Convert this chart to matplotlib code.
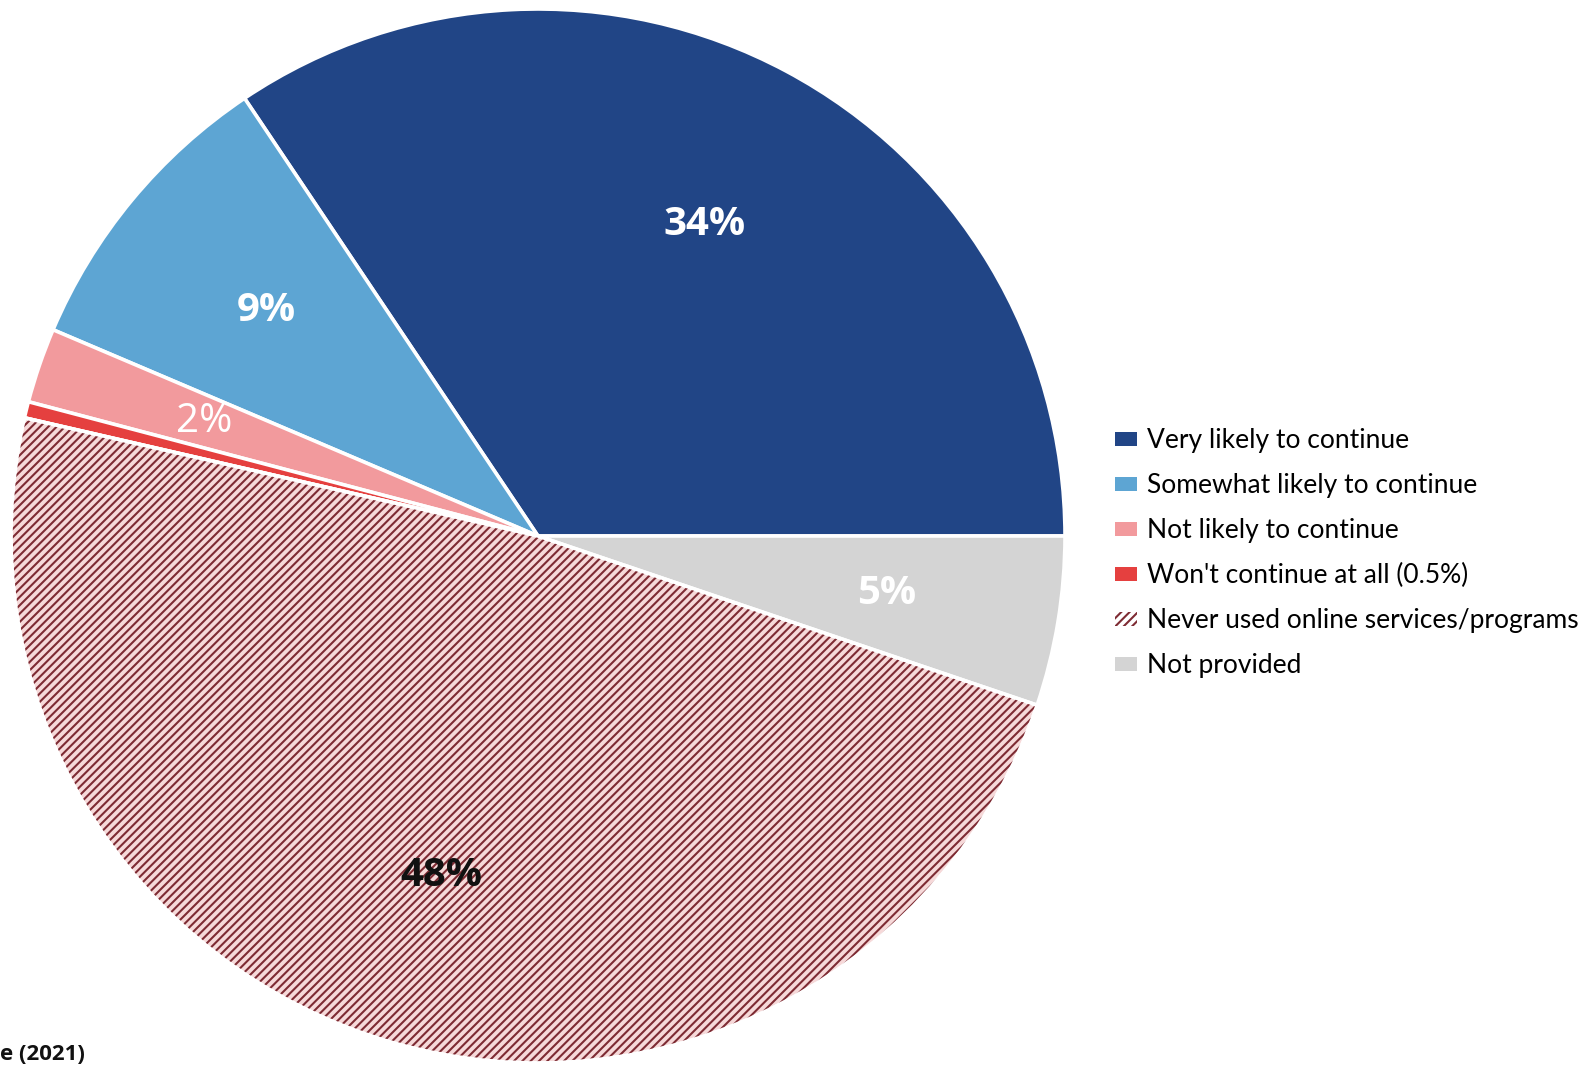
import numpy as np
import matplotlib
matplotlib.use("Agg")
import matplotlib.pyplot as plt
from matplotlib.patches import Patch, Wedge

categories = ["Very likely to continue", "Somewhat likely to continue",
              "Not likely to continue", "Won't continue at all (0.5%)",
              "Never used online services/programs", "Not provided"]
values = [34.4, 9.2, 2.3, 0.5, 48.4, 5.2]
value_labels = ["34%", "9%", "2%", "", "48%", "5%"]

colors = ["#214586", "#5DA5D3", "#F29A9D", "#E5403F", "#F6D9D9", "#D4D4D4"]
label_colors = ["white", "white", "white", "white", "#111111", "white"]
label_weights = ["bold", "bold", "normal", "normal", "bold", "bold"]
hatch_color = "#7E2B33"

plt.rcParams['font.family'] = ['Lato', 'DejaVu Sans']
plt.rcParams['hatch.linewidth'] = 1.5

W, H = 1594, 1067
fig = plt.figure(figsize=(W / 100, H / 100), dpi=100)
cx, cy, r = 538, 536, 527
ax = fig.add_axes([(cx - r) / W, (H - cy - r) / H, 2 * r / W, 2 * r / H])

wedges, _ = ax.pie(values, colors=colors, startangle=0, counterclock=True,
                   wedgeprops=dict(edgecolor="white", linewidth=2.6))

# hatch overlay for "Never used" slice, then white border on top
hw = wedges[4]
ax.add_patch(Wedge(hw.center, hw.r, hw.theta1, hw.theta2, facecolor="none",
                   edgecolor=hatch_color, linewidth=0, hatch="////", zorder=3))
ax.add_patch(Wedge(hw.center, hw.r, hw.theta1, hw.theta2, facecolor="none",
                   edgecolor="white", linewidth=2.6, zorder=4))

for w, lab, c, fw in zip(wedges, value_labels, label_colors, label_weights):
    if not lab:
        continue
    ang = np.deg2rad((w.theta1 + w.theta2) / 2)
    ax.text(0.67 * np.cos(ang), 0.67 * np.sin(ang), lab, ha="center", va="center",
            color=c, fontsize=29, fontweight=fw, zorder=5,
            family=['Open Sans', 'DejaVu Sans'])

ax.set_xlim(-1, 1)
ax.set_ylim(-1, 1)
ax.set_aspect("equal")
ax.axis("off")

handles = []
for i, (cat, col) in enumerate(zip(categories, colors)):
    if i == 4:
        handles.append(Patch(facecolor="white", hatch="////", edgecolor=hatch_color,
                             linewidth=0, label=cat))
    else:
        handles.append(Patch(facecolor=col, edgecolor="none", label=cat))

fig.legend(handles=handles, loc="upper left", bbox_to_anchor=(1115 / W, 1 - 428 / H),
           frameon=False, fontsize=19, handlelength=0.85, handleheight=0.45,
           handletextpad=0.35, labelspacing=0.76, borderaxespad=0, borderpad=0)

fig.text(0.0, 0.002, "e (2021)", ha="left", va="bottom", fontsize=16,
         fontweight="bold", color="#111111", family=['Open Sans', 'DejaVu Sans'])

fig.savefig("out.png", dpi=100)
